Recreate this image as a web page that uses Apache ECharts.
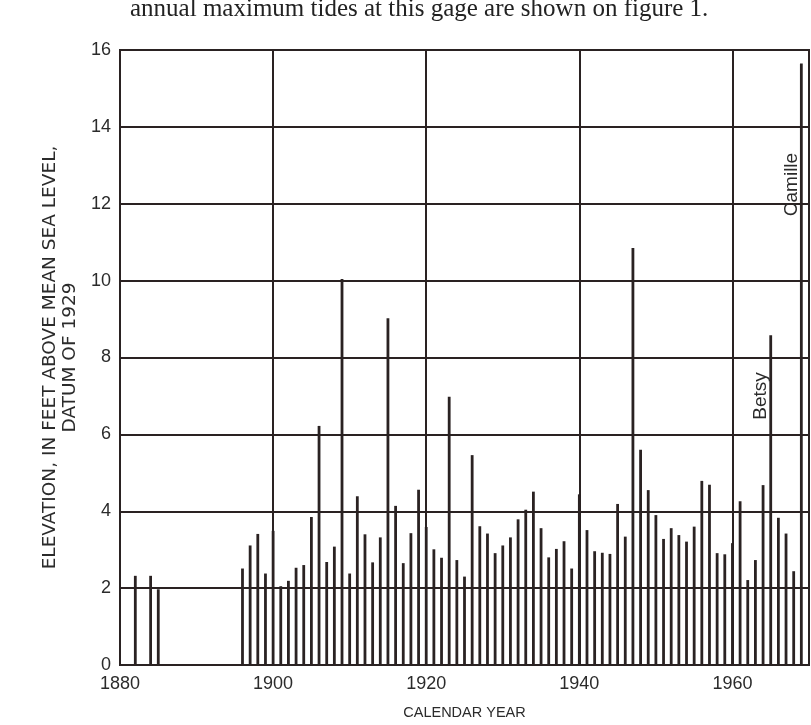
<!DOCTYPE html>
<html>
<head>
<meta charset="utf-8">
<script src="https://cdn.jsdelivr.net/npm/echarts@6/dist/echarts.min.js"></script>
<style>
html,body{margin:0;padding:0;background:#fff;}
#chart{width:811px;height:725px;}
</style>
</head>
<body>
<div id="chart"></div>
<script>
// Annual maximum tide elevations (ft above MSL, datum of 1929)
const years = [1882,1884,1885,
  1896,1897,1898,1899,1900,1901,1902,1903,1904,1905,1906,1907,1908,1909,1910,
  1911,1912,1913,1914,1915,1916,1917,1918,1919,1920,1921,1922,1923,1924,1925,
  1926,1927,1928,1929,1930,1931,1932,1933,1934,1935,1936,1937,1938,1939,1940,
  1941,1942,1943,1944,1945,1946,1947,1948,1949,1950,1951,1952,1953,1954,1955,
  1956,1957,1958,1959,1960,1961,1962,1963,1964,1965,1966,1967,1968,1969];
const elevations = [2.32,2.32,1.97,
  2.51,3.11,3.41,2.38,3.49,2.05,2.19,2.53,2.60,3.85,6.22,2.68,3.08,10.04,2.38,
  4.39,3.40,2.67,3.32,9.02,4.14,2.65,3.43,4.56,3.59,3.01,2.79,6.98,2.73,2.30,
  5.46,3.61,3.42,2.91,3.11,3.32,3.79,4.04,4.51,3.56,2.80,3.02,3.22,2.51,4.44,
  3.51,2.96,2.92,2.89,4.19,3.34,10.85,5.60,4.55,3.90,3.28,3.56,3.38,3.21,3.60,
  4.79,4.69,2.91,2.88,3.17,4.26,2.21,2.73,4.68,8.58,3.83,3.42,2.44,15.65];
const stormNames = ['Betsy','Camille'];
const stormYears = [1965,1969];
const xTicks = [1880,1900,1920,1940,1960];
const yTicks = [0,2,4,6,8,10,12,14,16];

const ink = '#2a2222';
const chart = echarts.init(document.getElementById('chart'));
const data = years.map((y,i)=>[y, elevations[i]]);
const stormLabel = {show:true,position:'inside',rotate:90,fontFamily:'Liberation Sans',fontSize:19,color:'#2b2b2b'};

chart.setOption({
  backgroundColor:'#ffffff',
  animation:false,
  grid:{left:120,right:2,top:50,bottom:57,show:true,borderColor:ink,borderWidth:2,backgroundColor:'transparent'},
  graphic:[{
    type:'text', left:130, top:-3,
    style:{text:'annual maximum tides at this gage are shown on figure 1.', font:'25px "Liberation Serif"', fill:'#222'}
  }],
  xAxis:{
    type:'value', min:1880, max:1970, interval:20,
    name:'CALENDAR YEAR', nameLocation:'middle', nameGap:40,
    nameTextStyle:{fontFamily:'Liberation Sans',fontSize:14.5,color:'#2b2b2b'},
    axisLine:{show:true,lineStyle:{color:ink,width:2}},
    axisTick:{show:false},
    axisLabel:{fontFamily:'Liberation Sans',fontSize:18,color:'#2b2b2b',margin:10,showMaxLabel:false,
      formatter:v=>xTicks.includes(v)?String(v):''},
    splitLine:{show:true,lineStyle:{color:ink,width:2}}
  },
  yAxis:{
    type:'value', min:0, max:16, interval:2,
    name:'ELEVATION, IN FEET ABOVE MEAN SEA LEVEL,\nDATUM OF 1929', nameLocation:'middle', nameGap:34,
    nameTextStyle:{fontFamily:'DejaVu Sans',fontSize:18.5,color:'#2b2b2b',lineHeight:20},
    axisLine:{show:true,lineStyle:{color:ink,width:2}},
    axisTick:{show:false},
    axisLabel:{fontFamily:'Liberation Sans',fontSize:18,color:'#2b2b2b',margin:9,
      formatter:v=>yTicks.includes(v)?String(v):''},
    splitLine:{show:true,lineStyle:{color:ink,width:2}}
  },
  series:[{
    type:'bar',
    data:data,
    barWidth:2.8,
    itemStyle:{color:ink},
    markPoint:{
      symbol:'circle',
      symbolSize:1,
      itemStyle:{color:'rgba(0,0,0,0)'},
      label:stormLabel,
      data:[
        {name:stormNames[0], value:stormNames[0], coord:[stormYears[0]-1.3, 7.0], label:Object.assign({formatter:stormNames[0]},stormLabel)},
        {name:stormNames[1], value:stormNames[1], coord:[stormYears[1]-1.3, 12.5], label:Object.assign({formatter:stormNames[1]},stormLabel)}
      ]
    }
  }]
});
</script>
</body>
</html>
